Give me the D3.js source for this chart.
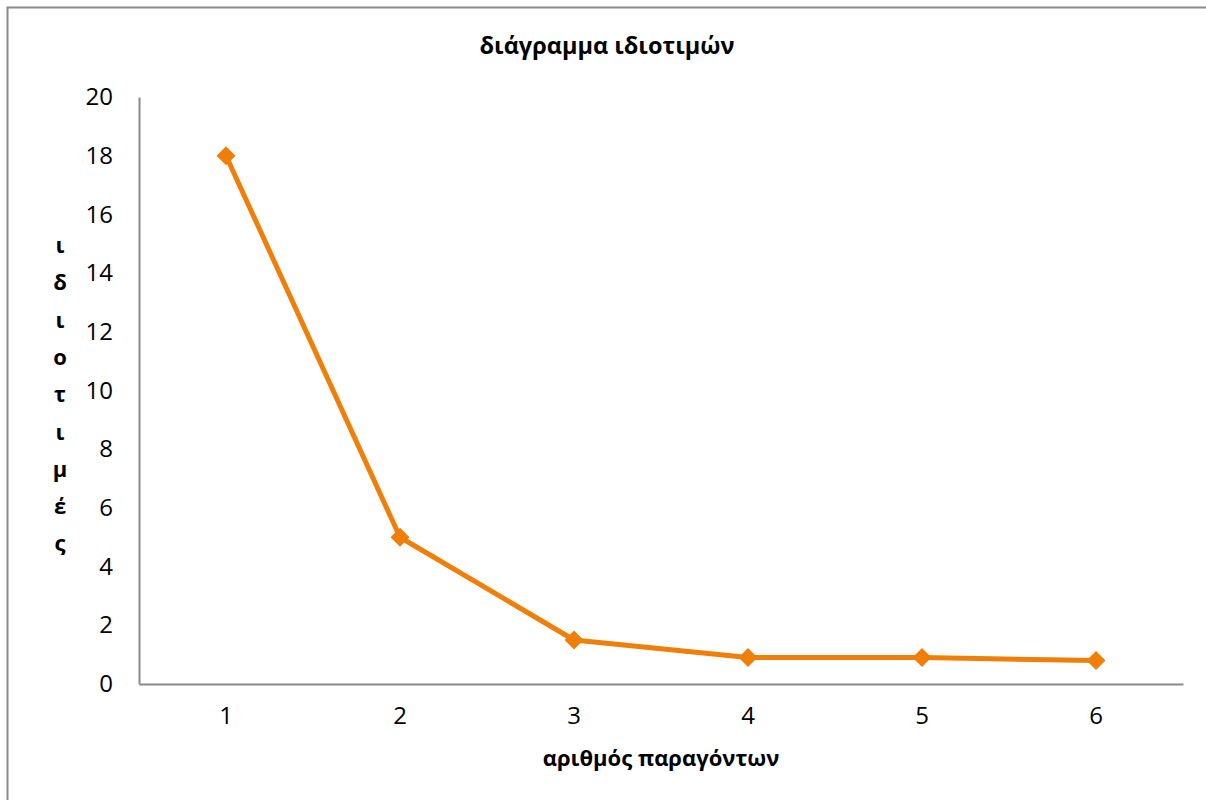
<!DOCTYPE html>
<html>
<head>
<meta charset="utf-8">
<script src="https://cdn.jsdelivr.net/npm/d3@7/dist/d3.min.js"></script>
<style>
  html, body { margin: 0; padding: 0; background: #fff; }
  svg { display: block; font-family: "Open Sans", "Noto Sans", sans-serif; }
</style>
</head>
<body>
<svg id="chart" width="1206" height="800"></svg>
<script>
// Eigenvalue scree plot data
const factors = ["1", "2", "3", "4", "5", "6"];
const eigenvalues = [18, 5, 1.5, 0.9, 0.9, 0.8];
const yTicks = [0, 2, 4, 6, 8, 10, 12, 14, 16, 18, 20];
const chartTitle = "διάγραμμα ιδιοτιμών";
const xTitle = "αριθμός παραγόντων";
const yTitle = "ιδιοτιμές";

const svg = d3.select("#chart");
const W = 1206, H = 800;
const plot = { left: 139, right: 1183, top: 97, bottom: 684 };
const lineColor = "#F07F09";
const axisColor = "#898989";

// chart frame
svg.append("rect")
  .attr("x", 7.5).attr("y", 7.5)
  .attr("width", W).attr("height", H)
  .attr("fill", "#fff").attr("stroke", axisColor).attr("stroke-width", 2);

const x = d3.scaleBand().domain(factors).range([plot.left, plot.right]);
const y = d3.scaleLinear().domain([0, 20]).range([plot.bottom, plot.top]);

// y axis
const yAxis = svg.append("g")
  .attr("transform", `translate(${plot.left},0)`)
  .call(d3.axisLeft(y).tickValues(yTicks).tickSize(0).tickPadding(26));
yAxis.select(".domain").attr("stroke", axisColor).attr("stroke-width", 2);
yAxis.selectAll("text").attr("font-size", 24).attr("fill", "#000")
  .attr("font-family", "Open Sans");

// x axis
const xAxis = svg.append("g")
  .attr("transform", `translate(0,${plot.bottom})`)
  .call(d3.axisBottom(x).tickSize(0).tickPadding(23));
xAxis.select(".domain").attr("stroke", axisColor).attr("stroke-width", 2);
xAxis.selectAll("text").attr("font-size", 24).attr("fill", "#000")
  .attr("font-family", "Open Sans");

const cx = d => x(d) + x.bandwidth() / 2;

// line
svg.append("path")
  .datum(eigenvalues)
  .attr("fill", "none")
  .attr("stroke", lineColor)
  .attr("stroke-width", 5)
  .attr("stroke-linejoin", "round")
  .attr("d", d3.line().x((d, i) => cx(factors[i])).y(d => y(d)));

// diamond markers
svg.append("g").selectAll("path")
  .data(eigenvalues)
  .join("path")
  .attr("transform", (d, i) => `translate(${cx(factors[i])},${y(d)})`)
  .attr("d", "M0,-9.5L9.5,0L0,9.5L-9.5,0Z")
  .attr("fill", lineColor);

// titles
svg.append("text")
  .attr("x", 607).attr("y", 54)
  .attr("text-anchor", "middle")
  .attr("font-size", 23.5).attr("font-weight", "bold")
  .text(chartTitle);

svg.append("text")
  .attr("x", (plot.left + plot.right) / 2).attr("y", 766)
  .attr("text-anchor", "middle")
  .attr("font-size", 22).attr("font-weight", "bold")
  .text(xTitle);

// stacked vertical axis title
svg.append("g").selectAll("text")
  .data(Array.from(yTitle))
  .join("text")
  .attr("x", 60)
  .attr("y", (d, i) => 253 + i * 37.3)
  .attr("text-anchor", "middle")
  .attr("font-size", 22).attr("font-weight", "bold")
  .text(d => d);
</script>
</body>
</html>
